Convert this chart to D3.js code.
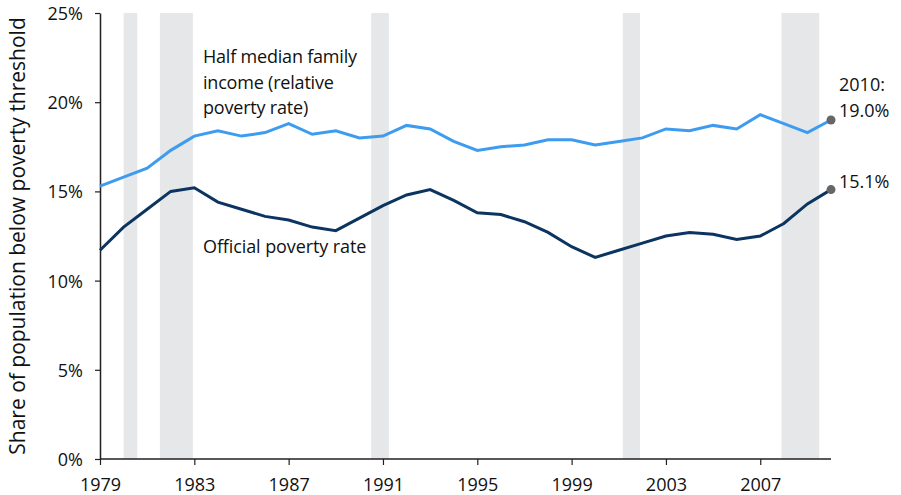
<!DOCTYPE html>
<html>
<head>
<meta charset="utf-8">
<script src="https://cdn.jsdelivr.net/npm/d3@7"></script>
<style>
  body { margin: 0; background: #fff; }
  svg { display: block; }
  text { font-family: "Open Sans", "Noto Sans", sans-serif; fill: #111; }
</style>
</head>
<body>
<svg id="chart"></svg>
<script>
var width = 901;
var height = 495;

// data
var years = d3.range(1979, 2011);
var official = [11.7, 13.0, 14.0, 15.0, 15.2, 14.4, 14.0, 13.6, 13.4, 13.0, 12.8, 13.5, 14.2, 14.8, 15.1, 14.5,
                13.8, 13.7, 13.3, 12.7, 11.9, 11.3, 11.7, 12.1, 12.5, 12.7, 12.6, 12.3, 12.5, 13.2, 14.3, 15.1];
var relative = [15.3, 15.8, 16.3, 17.3, 18.1, 18.4, 18.1, 18.3, 18.8, 18.2, 18.4, 18.0, 18.1, 18.7, 18.5, 17.8,
                17.3, 17.5, 17.6, 17.9, 17.9, 17.6, 17.8, 18.0, 18.5, 18.4, 18.7, 18.5, 19.3, 18.8, 18.3, 19.0];
var recessions = [[1980.0, 1980.58], [1981.54, 1982.94], [1990.5, 1991.25], [2001.17, 2001.9], [2007.9, 2009.5]];
var yTicks = [0, 5, 10, 15, 20, 25];
var xTicks = [1979, 1983, 1987, 1991, 1995, 1999, 2003, 2007];

var plotLeft = 100, plotRight = 831, plotTop = 13, plotBottom = 459;

var x = d3.scaleLinear().domain([1979, 2010]).range([plotLeft, plotRight]);
var y = d3.scaleLinear().domain([0, 25]).range([plotBottom, plotTop]);

var svg = d3.select("#chart")
    .attr("width", width)
    .attr("height", height);

// recession bars
svg.append("g")
    .selectAll("rect")
    .data(recessions)
    .enter()
    .append("rect")
    .attr("x", d => x(d[0]))
    .attr("y", y(25))
    .attr("width", d => x(d[1]) - x(d[0]))
    .attr("height", y(0) - y(25))
    .attr("fill", "#e6e7e8");

// axes
var yAxis = d3.axisLeft(y)
    .tickValues(yTicks)
    .tickFormat(d => d + "%")
    .tickSize(5)
    .tickSizeOuter(0);

var xAxis = d3.axisBottom(x)
    .tickValues(xTicks)
    .tickFormat(d3.format("d"))
    .tickSize(6)
    .tickSizeOuter(0);

var gy = svg.append("g")
    .attr("transform", `translate(${plotLeft},0)`)
    .call(yAxis);

var gx = svg.append("g")
    .attr("transform", `translate(0,${plotBottom})`)
    .call(xAxis);

[gx, gy].forEach(g => {
    g.select(".domain").attr("stroke", "#231f20").attr("stroke-width", 1.5);
    g.selectAll(".tick line").attr("stroke", "#231f20").attr("stroke-width", 1.2);
    g.selectAll(".tick text").style("font-size", "18px").attr("fill", "#111");
});
gy.selectAll(".tick text").attr("x", -17).attr("dy", "0.36em");
gx.selectAll(".tick text").attr("y", 17).attr("dy", "0.82em");
gx.select(".domain").attr("d", `M${plotLeft},0H${plotRight}`);

svg.append("text")
    .attr("transform", `translate(25,${(plotTop + plotBottom) / 2}) rotate(-90)`)
    .attr("text-anchor", "middle")
    .style("font-size", "21px")
    .text("Share of population below poverty threshold");

// lines
var line = d3.line()
    .x((d, i) => x(years[i]))
    .y(d => y(d));

svg.append("path")
    .datum(relative)
    .attr("d", line)
    .attr("fill", "none")
    .attr("stroke", "#3d9cf0")
    .attr("stroke-width", 3);

svg.append("path")
    .datum(official)
    .attr("d", line)
    .attr("fill", "none")
    .attr("stroke", "#0b3560")
    .attr("stroke-width", 3);

// end dots
svg.selectAll(".end")
    .data([relative[relative.length - 1], official[official.length - 1]])
    .enter()
    .append("circle")
    .attr("cx", x(2010))
    .attr("cy", d => y(d))
    .attr("r", 4.5)
    .attr("fill", "#666");

// labels
var labelSize = "18px";
var relLabel = svg.append("text")
    .attr("x", 203)
    .attr("y", 63)
    .style("font-size", labelSize)
    .style("letter-spacing", "-0.2px");
["Half median family", "income (relative", "poverty rate)"].forEach((t, i) => {
    relLabel.append("tspan").attr("x", 203).attr("dy", i ? 25.5 : 0).text(t);
});

svg.append("text")
    .attr("x", 203)
    .attr("y", 253)
    .style("font-size", labelSize)
    .style("letter-spacing", "-0.1px")
    .text("Official poverty rate");

var endLabel = svg.append("text")
    .attr("x", 839)
    .attr("y", 91)
    .style("font-size", labelSize);
endLabel.append("tspan").attr("x", 839).text("2010:");
endLabel.append("tspan").attr("x", 839).attr("dy", 25.5).text("19.0%");

svg.append("text")
    .attr("x", 839)
    .attr("y", 188)
    .style("font-size", labelSize)
    .text("15.1%");
</script>
</body>
</html>
